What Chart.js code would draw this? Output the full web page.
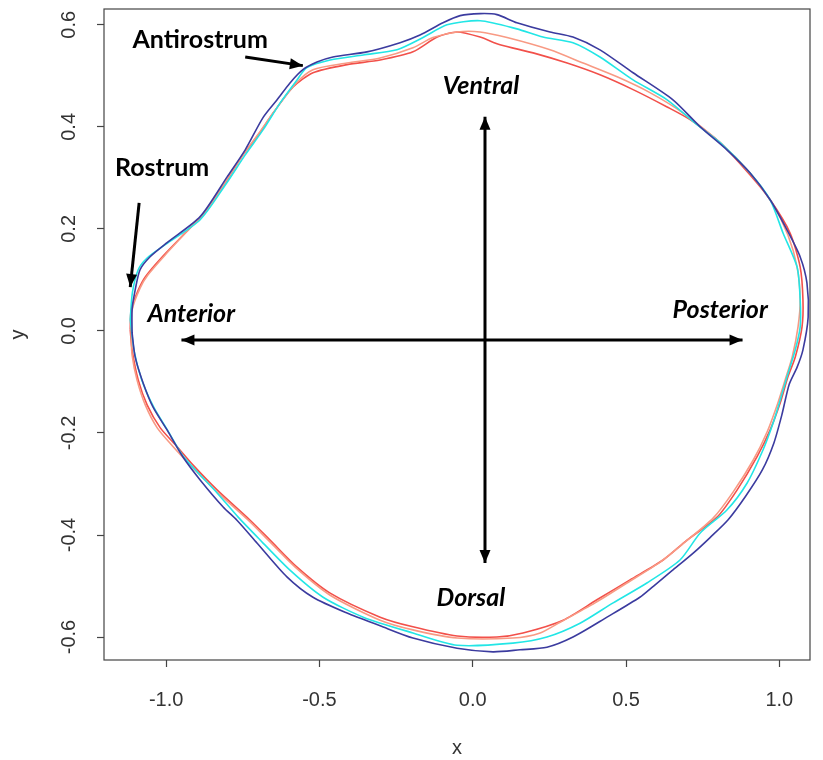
<!DOCTYPE html>
<html>
<head>
<meta charset="utf-8">
<script src="https://cdn.jsdelivr.net/npm/chart.js@4.4.1/dist/chart.umd.min.js"></script>
<style>
  html, body { margin: 0; padding: 0; background: #fff; }
</style>
</head>
<body>
<canvas id="outlines" width="823" height="760"></canvas>
<script>
// axis ticks
const xTicks = [-1.0, -0.5, 0.0, 0.5, 1.0];
const yTicks = [-0.6, -0.4, -0.2, 0.0, 0.2, 0.4, 0.6];

// outline points [x, y], clockwise from the rostrum
const navy = [
  [-1.111, -0.004], [-1.111, 0.041], [-1.101, 0.080], [-1.085, 0.120], [-1.053, 0.145],
  [-0.997, 0.173], [-0.889, 0.224], [-0.801, 0.302], [-0.742, 0.355], [-0.684, 0.418],
  [-0.638, 0.453], [-0.596, 0.486], [-0.554, 0.512], [-0.508, 0.527], [-0.456, 0.537],
  [-0.345, 0.547], [-0.237, 0.565], [-0.172, 0.580], [-0.097, 0.604], [-0.041, 0.618],
  [0.024, 0.622], [0.079, 0.620], [0.144, 0.604], [0.252, 0.586], [0.327, 0.576],
  [0.415, 0.551], [0.523, 0.506], [0.653, 0.453], [0.742, 0.400], [0.829, 0.355],
  [0.904, 0.310], [0.970, 0.257], [1.025, 0.198], [1.068, 0.145], [1.090, 0.094],
  [1.094, 0.027], [1.077, -0.037], [1.058, -0.071], [1.032, -0.105], [1.008, -0.165],
  [0.982, -0.220], [0.945, -0.272], [0.890, -0.324], [0.833, -0.370], [0.774, -0.405],
  [0.720, -0.435], [0.650, -0.470], [0.590, -0.500], [0.545, -0.522], [0.438, -0.561],
  [0.327, -0.600], [0.242, -0.620], [0.154, -0.625], [0.066, -0.629], [-0.051, -0.622],
  [-0.195, -0.602], [-0.302, -0.578], [-0.410, -0.553], [-0.521, -0.522], [-0.606, -0.482],
  [-0.703, -0.416], [-0.769, -0.371], [-0.814, -0.345], [-0.889, -0.292], [-0.945, -0.247],
  [-0.997, -0.194], [-1.043, -0.149], [-1.075, -0.102], [-1.101, -0.051]
];
const cyan = [
  [-1.117, 0.022], [-1.110, 0.075], [-1.091, 0.120], [-1.062, 0.143], [-1.003, 0.169],
  [-0.889, 0.218], [-0.807, 0.286], [-0.742, 0.345], [-0.684, 0.394], [-0.628, 0.447],
  [-0.573, 0.492], [-0.541, 0.516], [-0.465, 0.531], [-0.357, 0.541], [-0.247, 0.551],
  [-0.162, 0.575], [-0.084, 0.600], [0.024, 0.608], [0.144, 0.592], [0.229, 0.576],
  [0.327, 0.565], [0.415, 0.537], [0.523, 0.492], [0.634, 0.453], [0.730, 0.405],
  [0.807, 0.369], [0.904, 0.310], [0.970, 0.257], [1.012, 0.192], [1.058, 0.125],
  [1.068, 0.061], [1.068, 0.008], [1.052, -0.037], [1.025, -0.090], [1.003, -0.135],
  [0.980, -0.180], [0.947, -0.233], [0.895, -0.298], [0.829, -0.351], [0.742, -0.396],
  [0.676, -0.449], [0.568, -0.494], [0.458, -0.533], [0.350, -0.573], [0.242, -0.600],
  [0.131, -0.612], [-0.051, -0.616], [-0.195, -0.592], [-0.357, -0.561], [-0.488, -0.522],
  [-0.596, -0.469], [-0.693, -0.410], [-0.765, -0.365], [-0.833, -0.318], [-0.945, -0.245],
  [-0.995, -0.195], [-1.040, -0.150], [-1.080, -0.095], [-1.104, -0.040]
];
const red = [
  [-1.117, 0.002], [-1.114, 0.041], [-1.091, 0.080], [-1.068, 0.106], [-1.013, 0.145],
  [-0.928, 0.198], [-0.872, 0.233], [-0.801, 0.296], [-0.749, 0.345], [-0.704, 0.380],
  [-0.651, 0.427], [-0.586, 0.478], [-0.521, 0.506], [-0.410, 0.522], [-0.302, 0.531],
  [-0.195, 0.547], [-0.116, 0.576], [-0.051, 0.586], [0.024, 0.576], [0.089, 0.561],
  [0.197, 0.545], [0.308, 0.525], [0.415, 0.502], [0.523, 0.473], [0.634, 0.439],
  [0.709, 0.414], [0.807, 0.369], [0.904, 0.306], [0.970, 0.257], [1.035, 0.192],
  [1.068, 0.125], [1.077, 0.061], [1.074, 0.008], [1.052, -0.051], [1.028, -0.090],
  [1.003, -0.141], [0.970, -0.194], [0.927, -0.247], [0.862, -0.312], [0.797, -0.365],
  [0.699, -0.410], [0.621, -0.449], [0.513, -0.488], [0.405, -0.527], [0.295, -0.567],
  [0.164, -0.592], [0.079, -0.600], [-0.051, -0.598], [-0.195, -0.580], [-0.302, -0.561],
  [-0.465, -0.514], [-0.573, -0.463], [-0.661, -0.410], [-0.726, -0.371], [-0.833, -0.312],
  [-0.912, -0.263], [-0.964, -0.227], [-1.019, -0.190], [-1.062, -0.145], [-1.091, -0.096],
  [-1.111, -0.037]
];
const salmon = [
  [-1.114, -0.008], [-1.111, 0.041], [-1.085, 0.084], [-1.059, 0.110], [-1.003, 0.149],
  [-0.921, 0.202], [-0.866, 0.237], [-0.798, 0.300], [-0.742, 0.351], [-0.697, 0.388],
  [-0.644, 0.433], [-0.579, 0.484], [-0.521, 0.512], [-0.410, 0.525], [-0.302, 0.535],
  [-0.195, 0.555], [-0.130, 0.575], [-0.051, 0.586], [0.024, 0.586], [0.112, 0.575],
  [0.252, 0.551], [0.360, 0.525], [0.471, 0.498], [0.578, 0.467], [0.686, 0.427],
  [0.807, 0.369], [0.904, 0.310], [0.976, 0.251], [1.028, 0.188], [1.058, 0.125],
  [1.068, 0.061], [1.061, 0.008], [1.042, -0.051], [1.019, -0.096], [0.993, -0.145],
  [0.960, -0.198], [0.915, -0.253], [0.849, -0.316], [0.784, -0.367], [0.692, -0.414],
  [0.611, -0.453], [0.503, -0.494], [0.399, -0.533], [0.285, -0.571], [0.220, -0.592],
  [0.131, -0.602], [-0.051, -0.602], [-0.195, -0.586], [-0.302, -0.567], [-0.465, -0.518],
  [-0.579, -0.463], [-0.667, -0.410], [-0.732, -0.371], [-0.840, -0.312], [-0.921, -0.263],
  [-0.977, -0.227], [-1.029, -0.190], [-1.068, -0.145], [-1.095, -0.096], [-1.111, -0.047]
];

// annotations in data units
const arrows = [
  { from: [0.88, -0.018], to: [-0.95, -0.018], both: true },
  { from: [0.040, -0.455], to: [0.040, 0.420], both: true },
  { from: [-0.742, 0.537], to: [-0.554, 0.520], both: false },
  { from: [-1.088, 0.251], to: [-1.117, 0.086], both: false }
];
const notes = [
  { text: 'Antirostrum', at: [-0.889, 0.571], italic: false },
  { text: 'Rostrum', at: [-1.013, 0.320], italic: false },
  { text: 'Ventral', at: [0.027, 0.480], italic: true },
  { text: 'Anterior', at: [-0.918, 0.033], italic: true },
  { text: 'Posterior', at: [0.807, 0.041], italic: true },
  { text: 'Dorsal', at: [-0.006, -0.524], italic: true }
];

const closed = pts => pts.concat([pts[0]]).map(([x, y]) => ({ x, y }));
const outline = (label, pts, color) => ({
  label, data: closed(pts), showLine: true, borderColor: color, borderWidth: 1.6,
  pointRadius: 0, fill: false, tension: 0.25
});

const tickFont = { family: 'Liberation Sans', size: 20 };

const extras = {
  id: 'extras',
  afterDatasetsDraw(chart) {
    const { ctx, chartArea: a, scales: { x, y } } = chart;
    ctx.save();
    ctx.strokeStyle = '#444';
    ctx.lineWidth = 1.2;
    ctx.strokeRect(a.left, a.top, a.right - a.left, a.bottom - a.top);

    ctx.strokeStyle = '#000';
    ctx.fillStyle = '#000';
    ctx.lineWidth = 3;
    const head = (tx, ty, fx, fy) => {
      const ang = Math.atan2(ty - fy, tx - fx);
      ctx.beginPath();
      ctx.moveTo(tx, ty);
      ctx.lineTo(tx - 13 * Math.cos(ang) + 5.5 * Math.sin(ang), ty - 13 * Math.sin(ang) - 5.5 * Math.cos(ang));
      ctx.lineTo(tx - 13 * Math.cos(ang) - 5.5 * Math.sin(ang), ty - 13 * Math.sin(ang) + 5.5 * Math.cos(ang));
      ctx.closePath();
      ctx.fill();
    };
    arrows.forEach(ar => {
      const fx = x.getPixelForValue(ar.from[0]), fy = y.getPixelForValue(ar.from[1]);
      const tx = x.getPixelForValue(ar.to[0]), ty = y.getPixelForValue(ar.to[1]);
      ctx.beginPath();
      ctx.moveTo(fx, fy);
      ctx.lineTo(tx, ty);
      ctx.stroke();
      head(tx, ty, fx, fy);
      if (ar.both) head(fx, fy, tx, ty);
    });

    ctx.textAlign = 'center';
    ctx.textBaseline = 'middle';
    notes.forEach(n => {
      ctx.font = (n.italic ? 'italic ' : '') + 'bold 25px Lato';
      ctx.fillText(n.text, x.getPixelForValue(n.at[0]), y.getPixelForValue(n.at[1]));
    });
    ctx.restore();
  }
};

new Chart(document.getElementById('outlines'), {
  type: 'scatter',
  data: {
    datasets: [
      outline('navy', navy, '#3b3b9f'),
      outline('cyan', cyan, '#22e6e6'),
      outline('salmon', salmon, '#f89a84'),
      outline('red', red, '#f2504a')
    ]
  },
  options: {
    responsive: false,
    animation: false,
    devicePixelRatio: 1,
    layout: { padding: { top: 9, right: 13, left: 0, bottom: 0 } },
    plugins: { legend: { display: false }, tooltip: { enabled: false } },
    scales: {
      x: {
        type: 'linear', min: -1.2026, max: 1.100,
        afterBuildTicks: s => { s.ticks = xTicks.map(v => ({ value: v })); },
        afterFit: s => { s.height = 100; s.paddingLeft = 0; s.paddingRight = 0; },
        border: { display: false },
        grid: { drawOnChartArea: false, tickLength: 7, tickColor: '#444', tickWidth: 1.2 },
        ticks: { font: tickFont, color: '#333', padding: 21, maxRotation: 0, autoSkip: false,
                 callback: v => v.toFixed(1) },
        title: { display: true, text: 'x', font: tickFont, color: '#333', padding: { top: 0, bottom: 0 } }
      },
      y: {
        type: 'linear', min: -0.645, max: 0.631,
        afterBuildTicks: s => { s.ticks = yTicks.map(v => ({ value: v })); },
        afterFit: s => { s.width = 104; s.paddingTop = 0; s.paddingBottom = 0; },
        border: { display: false },
        grid: { drawOnChartArea: false, tickLength: 7, tickColor: '#444', tickWidth: 1.2 },
        ticks: { font: tickFont, color: '#333', padding: 10, minRotation: 90, maxRotation: 90,
                 crossAlign: 'center', autoSkip: false, callback: v => v.toFixed(1) },
        title: { display: true, text: 'y', font: tickFont, color: '#333', padding: { top: 6, bottom: 0 } }
      }
    }
  },
  plugins: [extras]
});
</script>
</body>
</html>
